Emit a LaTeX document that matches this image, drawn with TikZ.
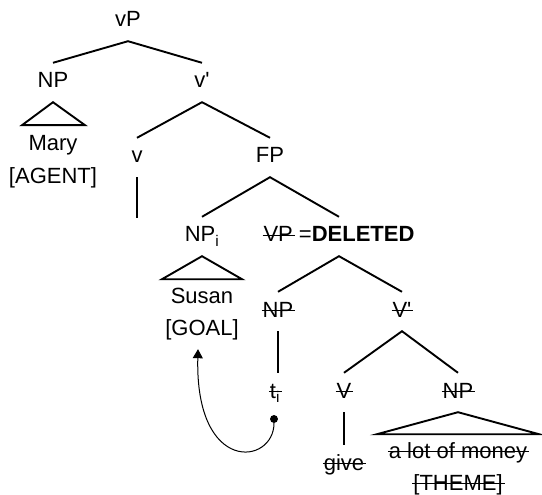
\documentclass[tikz,border=0pt]{standalone}
\usepackage{fontspec}
\setmainfont{Liberation Sans}
\newcommand{\struck}[1]{\setbox0\hbox{#1}\rlap{\kern-1pt\rule[6pt]{\dimexpr\wd0+3pt\relax}{1.3pt}}\box0\relax}
\usetikzlibrary{arrows.meta}
\tikzset{
  cat/.style={anchor=base,text height=20pt,text depth=9pt,inner sep=5pt},
  branch/.style={line width=1.9pt}
}
\begin{document}
\begin{tikzpicture}[x=1pt,y=-1pt,font=\fontsize{22}{33}\selectfont]
    \useasboundingbox (0,0) rectangle (542,495);
    \node[cat] (vP) at (128,27) {vP};
    \node[cat] (NPa) at (53,88) {NP};
    \node[cat] (vbar) at (202,88) {v\textquotesingle};
    \node[cat] (Mary) at (53,150) {Mary};
    \node[cat] (Agent) at (53,184) {[AGENT]};
    \node[cat] (v) at (137,163) {v};
    \coordinate (vEnd) at (137,218);
    \node[cat] (FP) at (270,163) {FP};
    \node[cat] (NPi) at (202,242) {NP\textsubscript{i}};
    \node[cat] (VP) at (339,242) {\struck{VP} =\textbf{DELETED}};
    \node[cat] (Susan) at (202,303) {Susan};
    \node[cat] (Goal) at (202,335) {[GOAL]};
    \node[cat] (NPt) at (278,317) {\struck{NP}};
    \node[cat] (Vbar) at (402,317) {\struck{V\textquotesingle}};
    \node[cat] (ti) at (275,398) {\struck{t\textsubscript{i}}};
    \node[cat] (V) at (344,398) {\struck{V}};
    \node[cat] (NPm) at (458,398) {\struck{NP}};
    \node[cat] (give) at (344,470) {\struck{give}};
    \node[cat] (money) at (458,458) {\struck{a lot of money}};
    \node[cat] (Theme) at (458,490) {\struck{[THEME]}};
    \node[fill,circle,inner sep=2.8pt] (trace) at (274,419) {};
    \draw[branch] (NPa.north) -- (vP.south) -- (vbar.north);
    \draw[branch] (v.north) -- (vbar.south) -- (FP.north);
    \draw[branch] (v.south) -- (vEnd);
    \draw[branch] (NPi.north) -- (FP.south) -- (VP.north);
    \draw[branch] (NPt.north) -- (VP.south) -- (Vbar.north);
    \draw[branch] (NPt.south) -- (NPt.south |- ti.north);
    \draw[branch] (V.north) -- (Vbar.south) -- (NPm.north);
    \draw[branch] (V.south) -- (give.north);
    \draw[branch] (NPa.south) -- ++(-31,23) -- ++(63,0) -- cycle;
    \draw[branch] (NPi.south) -- ++(-40,23) -- ++(80,0) -- cycle;
    \draw[branch] (NPm.south) -- ++(-81,22) -- ++(162,0) -- cycle;
    \draw[line width=1pt,-{Triangle[length=9pt,width=10pt]}] (trace)
    .. controls +(0,46) and +(-3,126) .. ([xshift=-4pt]Goal.south);
  \end{tikzpicture}
\end{document}
